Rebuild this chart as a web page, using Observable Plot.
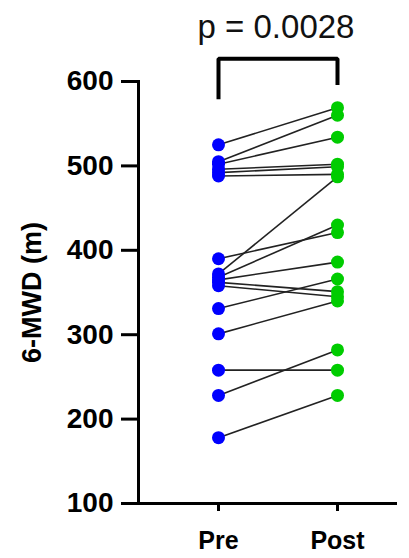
<!DOCTYPE html>
<html>
<head>
<meta charset="utf-8">
<script src="https://cdn.jsdelivr.net/npm/d3@7"></script>
<script src="https://cdn.jsdelivr.net/npm/@observablehq/plot@0.6"></script>
<style>
  html, body { margin: 0; padding: 0; background: #fff; }
  svg { font-family: "Liberation Sans", Arial, sans-serif; }
</style>
</head>
<body>
<div id="chart"></div>
<script>
// Categories and tick labels
const groups = ["Pre", "Post"];
const yTicks = [100, 200, 300, 400, 500, 600];
const yLabel = "6-MWD (m)";
const pLabel = "p = 0.0028";

// Paired 6-minute walk distances (m), one entry per subject
const preValues  = [525, 505, 502, 496, 492, 488, 390, 372, 368, 365, 362, 358, 331, 301, 258, 228, 178];
const postValues = [569, 560, 534, 502, 499, 490, 421, 487, 430, 386, 351, 345, 366, 340, 258, 282, 228];

// Significance bracket levels (in data units)
const bracketTop = 627;
const bracketLeftEnd = 579;
const bracketRightEnd = 596;

const pairs = preValues.map((p, i) => ({pre: p, post: postValues[i]}));
const points = [
  ...preValues.map(v => ({group: "Pre", value: v})),
  ...postValues.map(v => ({group: "Post", value: v}))
];
const bracket = [
  {group: "Pre", value: bracketLeftEnd},
  {group: "Pre", value: bracketTop},
  {group: "Post", value: bracketTop},
  {group: "Post", value: bracketRightEnd}
];

const chart = Plot.plot({
  width: 409,
  height: 558,
  marginLeft: 138,
  marginRight: 14,
  marginTop: 81,
  marginBottom: 55,
  x: {type: "point", domain: groups, range: [218, 337], padding: 0},
  y: {domain: [100, 600], range: [503, 81]},
  marks: [
    Plot.frame({anchor: "left", strokeWidth: 3, stroke: "#000"}),
    Plot.frame({anchor: "bottom", strokeWidth: 3, stroke: "#000"}),
    Plot.axisY({ticks: yTicks, tickSize: 17, tickPadding: 8, strokeWidth: 3, stroke: "#000",
      fontSize: 28, fontWeight: "bold", fill: "#000", label: null}),
    Plot.axisX({tickSize: 8, tickPadding: 20, strokeWidth: 3, stroke: "#000",
      fontSize: 25, fontWeight: "bold", fill: "#000", label: null}),
    Plot.text([yLabel], {frameAnchor: "left", rotate: -90, dx: -106, fontSize: 27,
      fontWeight: "bold", fill: "#000", textAnchor: "middle", lineAnchor: "middle"}),
    Plot.line(bracket, {x: "group", y: "value", stroke: "#000", strokeWidth: 4,
      strokeLinejoin: "miter", strokeLinecap: "butt"}),
    Plot.text([pLabel], {frameAnchor: "top", dx: 9, dy: -44, fontSize: 33,
      fill: "#111", lineAnchor: "bottom"}),
    Plot.link(pairs, {x1: () => "Pre", y1: "pre", x2: () => "Post", y2: "post",
      stroke: "#222", strokeWidth: 1.6}),
    Plot.dot(points, {x: "group", y: "value", r: 6.5, stroke: null,
      fill: d => d.group === "Pre" ? "#0000ff" : "#00cc00"})
  ]
});
document.getElementById("chart").appendChild(chart);
</script>
</body>
</html>
